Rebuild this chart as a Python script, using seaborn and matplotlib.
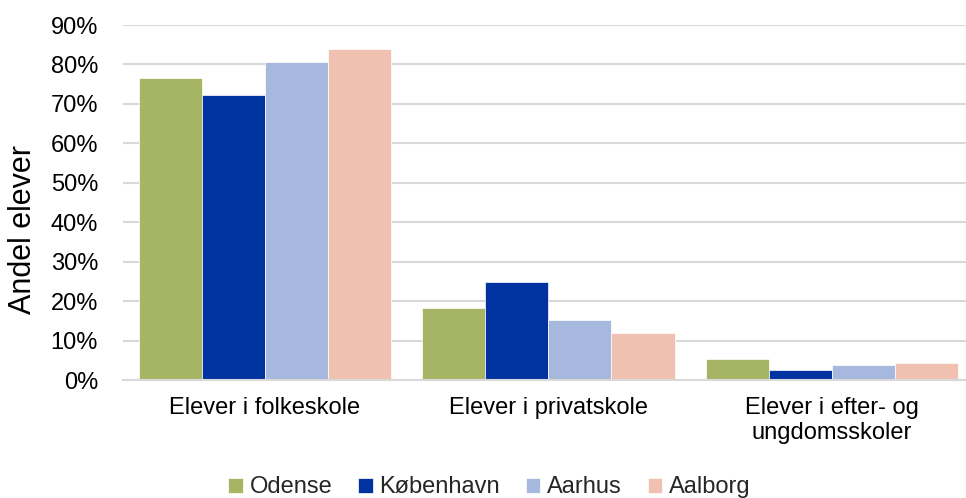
import matplotlib
matplotlib.use("Agg")
import matplotlib.pyplot as plt
import seaborn as sns
import pandas as pd
from matplotlib.ticker import PercentFormatter

categories = ["Elever i folkeskole", "Elever i privatskole", "Elever i efter- og\nungdomsskoler"]
cities = ["Odense", "København", "Aarhus", "Aalborg"]
odense = [0.766, 0.183, 0.054]
kobenhavn = [0.723, 0.248, 0.025]
aarhus = [0.806, 0.151, 0.039]
aalborg = [0.839, 0.119, 0.044]
colors = ["#A6B563", "#00339F", "#A7B8DE", "#F0C1B1"]
yticks = [0, 0.1, 0.2, 0.3, 0.4, 0.5, 0.6, 0.7, 0.8, 0.9]

rows = []
for city, vals in zip(cities, [odense, kobenhavn, aarhus, aalborg]):
    for cat, v in zip(categories, vals):
        rows.append({"Kategori": cat, "By": city, "Andel": v})
df = pd.DataFrame(rows)

sns.set_theme(style="white")
plt.rcParams["font.family"] = ["Liberation Sans", "DejaVu Sans"]

fig = plt.figure(figsize=(9.66, 4.98), dpi=100)
ax = fig.add_axes([123 / 966, 1 - 380 / 498, (966 - 123) / 966, (380 - 25) / 498])

sns.barplot(data=df, x="Kategori", y="Andel", hue="By", order=categories,
            hue_order=cities, palette=colors, saturation=1, width=0.89, ax=ax,
            edgecolor="white", linewidth=0.5, errorbar=None, legend=True)

ax.set_xlim(-0.5, 2.473)
ax.set_ylim(0, 0.9)
ax.set_yticks(yticks)
ax.yaxis.set_major_formatter(PercentFormatter(1.0, decimals=0))
ax.grid(axis="y", color="#D9D9D9", linewidth=1.5)
ax.set_axisbelow(True)
for s in ["top", "right", "left"]:
    ax.spines[s].set_visible(False)
ax.spines["bottom"].set_color("#D9D9D9")
ax.spines["bottom"].set_linewidth(1.5)
ax.tick_params(axis="both", length=0, labelsize=17, colors="black")
ax.tick_params(axis="y", pad=18)
ax.tick_params(axis="x", pad=12)
ax.set_xlabel("")
ax.set_ylabel("Andel elever", fontsize=22, color="black")
ax.yaxis.set_label_coords(-0.101, 0.425)

ax.legend(loc="upper center", bbox_to_anchor=(0.435, -0.245), ncol=4, frameon=False,
          fontsize=17, handlelength=0.6, handleheight=0.6, handletextpad=0.3,
          columnspacing=1.1, borderaxespad=0)

fig.savefig("out.png", dpi=100)
